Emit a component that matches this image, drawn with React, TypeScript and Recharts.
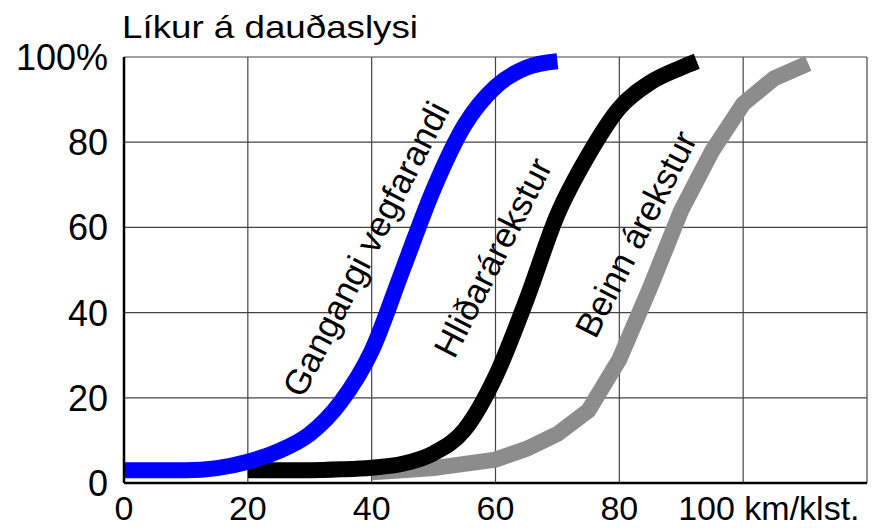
import React from "react";
import { LineChart, Line, XAxis, YAxis, CartesianGrid, ReferenceDot } from "recharts";

// speed (km/klst.) and probability of fatal accident (%)
const pedestrianSpeed = [0, 5, 10, 15, 20, 25, 30, 35, 40, 45, 50, 55, 60, 65, 70];
const pedestrianPct = [3, 3, 3, 3.5, 5, 7.5, 11.5, 19, 31, 50, 69, 84, 93, 97.5, 99];

const sideSpeed = [20, 25, 30, 35, 40, 45, 50, 55, 60, 65, 70, 75, 80, 85, 90, 92.5];
const sidePct = [3, 3, 3, 3.2, 3.6, 4.5, 7, 12.5, 25, 43, 63, 77, 88, 94, 97.5, 99];

const headOnSpeed = [40, 45, 50, 55, 60, 65, 70, 75, 80, 85, 90, 95, 100, 105, 110.5];
const headOnPct = [2.5, 3, 3.5, 4.5, 5.5, 8, 11.5, 17, 29, 46, 64, 78, 89, 95, 98.5];

const xTicks = [0, 20, 40, 60, 80, 100, 120];
const yTicks = [0, 20, 40, 60, 80, 100];

const labels = [
  { text: "Gangangi vegfarandi", x: 39, y: 55 },
  { text: "Hliðarárekstur", x: 59.5, y: 53 },
  { text: "Beinn árekstur", x: 82.6, y: 58.5 },
];

const toRows = (xs: number[], ys: number[]) => xs.map((x, i) => ({ x, y: ys[i] }));

const FONT = '"Liberation Sans", Arial, sans-serif';

const XTick = (props: any) => {
  const { x, y, payload } = props;
  const v = payload.value;
  if (v === 120) return <g />;
  const isLast = v === 100;
  return (
    <text
      x={isLast ? x - 65 : x}
      y={y + 37}
      textAnchor={isLast ? "start" : "middle"}
      fontSize={34}
      fontFamily={FONT}
      fill="#000"
    >
      {isLast ? "100 km/klst." : v}
    </text>
  );
};

const YTick = (props: any) => {
  const { x, y, payload } = props;
  const v = payload.value;
  return (
    <text x={x} y={y} dy="0.36em" textAnchor="end" fontSize={36} fontFamily={FONT} fill="#000">
      {v === 100 ? "100%" : v}
    </text>
  );
};

const RotLabel = (text: string) => (props: any) => {
  const { viewBox } = props;
  const cx = viewBox.x + (viewBox.width || 0) / 2;
  const cy = viewBox.y + (viewBox.height || 0) / 2;
  return (
    <text
      x={cx}
      y={cy}
      dy="0.36em"
      textAnchor="middle"
      transform={`rotate(-63, ${cx}, ${cy})`}
      fontSize={35}
      fontFamily={FONT}
      fill="#000"
    >
      {text}
    </text>
  );
};

export default function App() {
  return (
    <div style={{ position: "absolute", left: 0, top: 0, width: 875, height: 528, background: "#fff" }}>
      <LineChart
        width={875}
        height={528}
        margin={{ top: 57, right: 8, bottom: 0, left: 16 }}
      >
        <CartesianGrid stroke="#444" strokeWidth={1.2} />
        <XAxis
          type="number"
          dataKey="x"
          domain={[0, 120]}
          ticks={xTicks}
          interval={0}
          tick={<XTick />}
          tickLine={false}
          tickSize={0}
          tickMargin={0}
          height={45}
          axisLine={{ stroke: "#000", strokeWidth: 2.5 }}
        />
        <YAxis
          type="number"
          domain={[0, 100]}
          ticks={yTicks}
          interval={0}
          tick={<YTick />}
          tickLine={false}
          tickSize={0}
          tickMargin={16}
          width={108}
          axisLine={{ stroke: "#000", strokeWidth: 2.5 }}
        />
        <Line
          data={toRows(headOnSpeed, headOnPct)}
          dataKey="y"
          type="linear"
          stroke="#8c8c8c"
          strokeWidth={16}
          dot={false}
          isAnimationActive={false}
        />
        <Line
          data={toRows(sideSpeed, sidePct)}
          dataKey="y"
          type="monotone"
          stroke="#000"
          strokeWidth={16}
          dot={false}
          isAnimationActive={false}
        />
        <Line
          data={toRows(pedestrianSpeed, pedestrianPct)}
          dataKey="y"
          type="monotone"
          stroke="#0000ff"
          strokeWidth={16}
          dot={false}
          isAnimationActive={false}
        />
        {labels.map((l) => (
          <ReferenceDot
            key={l.text}
            x={l.x}
            y={l.y}
            r={0}
            fill="none"
            stroke="none"
            label={RotLabel(l.text)}
          />
        ))}
      </LineChart>
      <svg width={875} height={60} style={{ position: "absolute", left: 0, top: 0 }}>
        <text
          x={122}
          y={38}
          fontSize={32}
          fontFamily={FONT}
          fill="#000"
          textLength={296}
          lengthAdjust="spacingAndGlyphs"
        >
          Líkur á dauðaslysi
        </text>
      </svg>
    </div>
  );
}
